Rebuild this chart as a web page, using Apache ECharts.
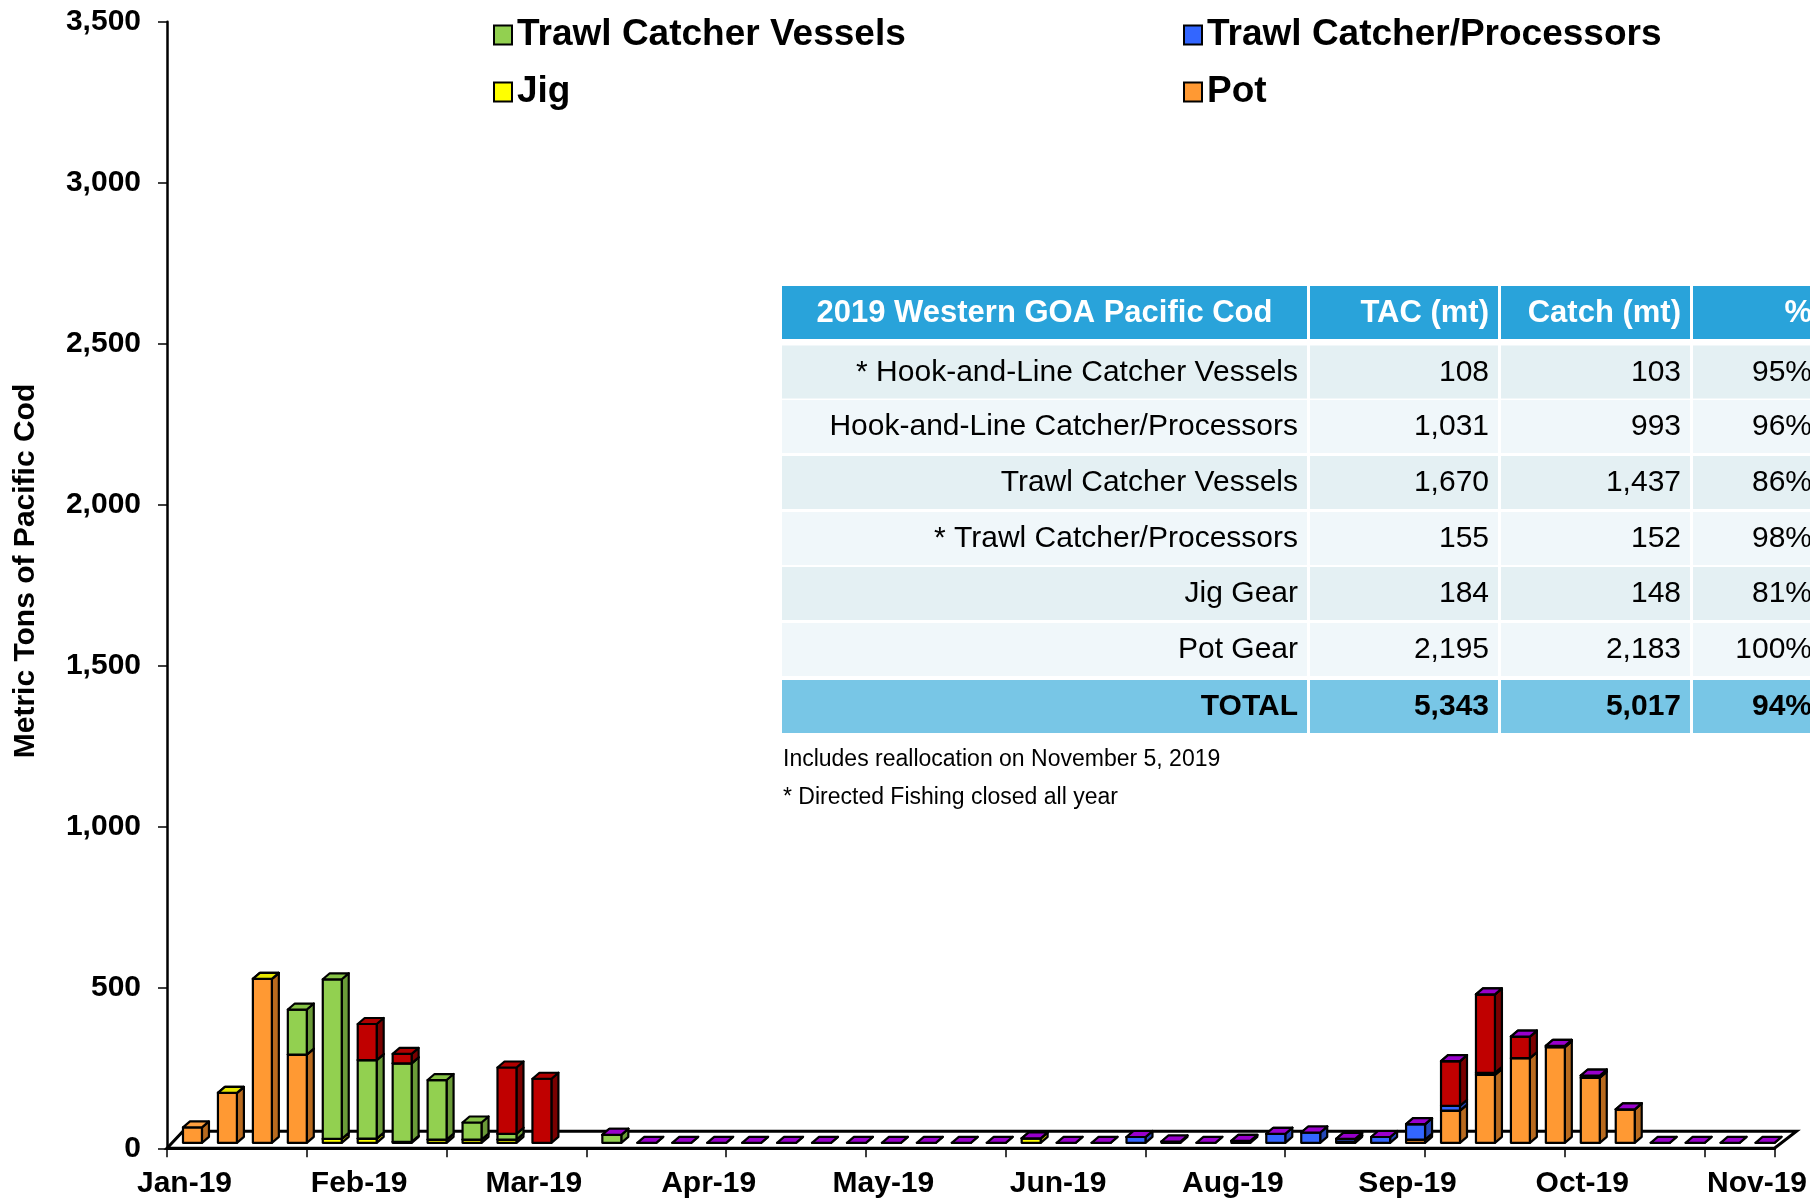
<!DOCTYPE html>
<html><head><meta charset="utf-8">
<script src="https://cdn.jsdelivr.net/npm/echarts@6/dist/echarts.min.js"></script>
<style>html,body{margin:0;padding:0;background:#fff}#c{width:1810px;height:1201px}</style>
</head><body><div id="c"></div>
<script>
// ---- categories (week ending dates) ----
const weeks = ['2019-01-05','2019-01-12','2019-01-19','2019-01-26','2019-02-02','2019-02-09','2019-02-16','2019-02-23',
'2019-03-02','2019-03-09','2019-03-16','2019-03-23','2019-03-30','2019-04-06','2019-04-13','2019-04-20','2019-04-27',
'2019-05-04','2019-05-11','2019-05-18','2019-05-25','2019-06-01','2019-06-08','2019-06-15','2019-06-22','2019-06-29',
'2019-07-06','2019-07-13','2019-07-20','2019-07-27','2019-08-03','2019-08-10','2019-08-17','2019-08-24','2019-08-31',
'2019-09-07','2019-09-14','2019-09-21','2019-09-28','2019-10-05','2019-10-12','2019-10-19','2019-10-26','2019-11-02',
'2019-11-09','2019-11-16'];
const monthNames = ['Jan','Feb','Mar','Apr','May','Jun','Jul','Aug','Sep','Oct','Nov','Dec'];
const yTicks = [0,500,1000,1500,2000,2500,3000,3500];
const N = null;
// ---- series values (metric tons), stacked bottom -> top ----
const pot   = [48,155,509,274,N,N,N,N,N,N, N,N,N,N,N,N,N,N,N,N, N,N,N,N,N,N,N,N,N,N, N,N,N,N,N,10,100,211,263,297, 202,104,N,N,N,N];
const jig   = [N,0,0,N,12,13,3,10,10,10, N,N,N,N,N,N,N,N,N,N, N,N,N,N,14,N,N,N,N,N, N,N,N,4,N,N,N,N,N,N, N,N,N,N,N,N];
const trawlCV = [N,N,N,140,496,244,244,185,53,18, N,N,25,N,N,N,N,N,N,N, N,N,N,N,N,N,N,N,N,N, N,N,N,N,N,N,N,N,N,N, 7,N,N,N,N,N];
const trawlCP = [N,N,N,N,N,N,N,N,N,N, N,N,N,N,N,N,N,N,N,N, N,N,N,N,N,N,N,18,4,N, 6,28,32,8,18,48,15,6,N,N, N,N,N,N,N,N];
const hookCP  = [N,N,N,N,N,112,29,N,N,206, 199,N,N,N,N,N,N,N,N,N, N,N,N,N,N,N,N,N,N,N, N,N,N,N,N,N,139,244,67,4, N,N,N,N,N,N];
const hookCV  = [N,N,N,N,N,N,N,N,N,N, N,N,0,0,0,0,0,0,0,0, 0,0,0,0,0,0,0,0,0,0, 0,0,0,0,0,0,0,0,0,0, 0,0,0,0,0,0];
const seriesNames = ['Pot','Jig','Trawl Catcher Vessels','Trawl Catcher/Processors','Hook-and-Line Catcher/Processors','Hook-and-Line Catcher Vessels'];
const seriesValues = [pot, jig, trawlCV, trawlCP, hookCP, hookCV];
// ---- table ----
const tableHead = ['2019 Western GOA Pacific Cod','TAC (mt)','Catch (mt)','%'];
const rowNames = ['* Hook-and-Line Catcher Vessels','Hook-and-Line Catcher/Processors','Trawl Catcher Vessels','* Trawl Catcher/Processors','Jig Gear','Pot Gear'];
const tacVals = ['108','1,031','1,670','155','184','2,195'];
const catchVals = ['103','993','1,437','152','148','2,183'];
const pctVals = ['95%','96%','86%','98%','81%','100%'];
const totalRow = ['TOTAL','5,343','5,017','94%'];
const notes = ['Includes reallocation on November 5, 2019','* Directed Fishing closed all year'];
const yTitle = 'Metric Tons of Pacific Cod';

// ---- styles ----
const FONT = '"Liberation Sans", Arial, sans-serif';
const palette = [
  {front:'#FF9933', side:'#B86A1E', top:'#FFA040'},
  {front:'#FFFF00', side:'#B5B500', top:'#E6E600'},
  {front:'#92D050', side:'#6A9B38', top:'#86C246'},
  {front:'#3366FF', side:'#2447B8', top:'#3366FF'},
  {front:'#C00000', side:'#7A0000', top:'#B00000'},
  {front:'#9900CC', side:'#6A008E', top:'#9900CC'}
];
const SHIFT_X = 8, SHIFT_Y = 5.5, DX = 7, DY = 6, BAR_FRAC = 19/35;

function makeRender(col){
  return function(params, api){
    const i = api.value(0), b = api.value(1), t = api.value(2);
    const p0 = api.coord([i, b]), p1 = api.coord([i, t]);
    const bw = api.size([1, 0])[0] * BAR_FRAC;
    const x0 = p0[0] - bw/2 + SHIFT_X, x1 = x0 + bw;
    const yb = p0[1] - SHIFT_Y, yt = p1[1] - SHIFT_Y;
    const st = {stroke:'#000', lineWidth:2.2, lineJoin:'round'};
    return {type:'group', children:[
      {type:'polygon', shape:{points:[[x1,yb],[x1,yt],[x1+DX,yt-DY],[x1+DX,yb-DY]]}, style:Object.assign({fill:col.side}, st)},
      {type:'rect', shape:{x:x0, y:yt, width:bw, height:yb-yt}, style:Object.assign({fill:col.front}, st)},
      {type:'polygon', shape:{points:[[x0,yt],[x1,yt],[x1+DX,yt-DY],[x0+DX,yt-DY]]}, style:Object.assign({fill:col.top}, st)}
    ]};
  };
}

const cum = weeks.map(() => 0);
const barSeries = seriesValues.map((vals, s) => {
  const data = [];
  vals.forEach((v, i) => {
    if (v === null) return;
    data.push([i, cum[i], cum[i] + v]);
    cum[i] += v;
  });
  return {
    type:'custom', name:seriesNames[s], renderItem:makeRender(palette[s]),
    itemStyle:{color:palette[s].front}, encode:{x:0, y:[1,2]}, data, z:3, silent:true
  };
});

const floorSeries = {
  type:'custom', name:'floor', silent:true, z:2, data:[[0,0]],
  renderItem:function(params, api){
    const cs = params.coordSys;
    const yb = cs.y + cs.height, xl = cs.x, xr = cs.x + cs.width;
    return {type:'polygon', shape:{points:[[xl,yb],[xr,yb],[xr+22,yb-17],[xl+16,yb-17]]},
      style:{fill:'#fff', stroke:'#000', lineWidth:3, lineJoin:'miter'}};
  }
};

// ---- table graphics ----
const colEdges = [[782,1307],[1310,1498],[1501,1690],[1693,1850]];
const gfx = [];
function cell(x0,x1,y0,h,fill){ gfx.push({type:'rect', shape:{x:x0,y:y0,width:x1-x0,height:h}, style:{fill}, z:10}); }
function txt(s,x,y,align,size,weight,color,rot){
  gfx.push({type:'text', x, y, z:11, rotation:rot||0, style:{text:s, x:0, y:0, align, verticalAlign:'middle', fontSize:size, fontWeight:weight, fill:color, fontFamily:FONT}});
}
const colRight = [1298, 1489, 1681, 1812];
// header
colEdges.forEach((c,k) => cell(c[0], c[1], 286, 53, '#29A3DA'));
txt(tableHead[0], (colEdges[0][0]+colEdges[0][1])/2, 313, 'center', 31, 'bold', '#fff');
for (let k=1;k<4;k++) txt(tableHead[k], colRight[k], 313, 'right', 31, 'bold', '#fff');
// data rows
const rowTops = [345.5,400,456,512,567,623];
rowNames.forEach((nm, r) => {
  const y0 = rowTops[r], fill = r % 2 === 0 ? '#E4F0F3' : '#F0F7FA';
  colEdges.forEach(c => cell(c[0], c[1], y0, 53, fill));
  const yc = y0 + 27;
  txt(nm, colRight[0], yc, 'right', 30, 'normal', '#000');
  txt(tacVals[r], colRight[1], yc, 'right', 30, 'normal', '#000');
  txt(catchVals[r], colRight[2], yc, 'right', 30, 'normal', '#000');
  txt(pctVals[r], colRight[3], yc, 'right', 30, 'normal', '#000');
});
// total
colEdges.forEach(c => cell(c[0], c[1], 680, 53, '#78C6E6'));
totalRow.forEach((s,k) => txt(s, colRight[k], 707, 'right', 30, 'bold', '#000'));
// notes
txt(notes[0], 783, 760, 'left', 23, 'normal', '#000');
txt(notes[1], 783, 798, 'left', 23, 'normal', '#000');
// y axis title
txt(yTitle, 26, 571, 'center', 30, 'bold', '#000', Math.PI/2);

const legendCommon = {
  orient:'vertical', top:10, itemWidth:18, itemHeight:19, itemGap:17, icon:'rect', selectedMode:false,
  itemStyle:{borderColor:'#000', borderWidth:2},
  textStyle:{fontSize:37, fontWeight:'bold', color:'#000', fontFamily:FONT, lineHeight:40}
};

const chart = echarts.init(document.getElementById('c'), null, {renderer:'canvas'});
chart.setOption({
  animation:false,
  backgroundColor:'#fff',
  grid:{left:167, right:33, top:21.7, bottom:52.7, containLabel:false},
  legend:[
    Object.assign({}, legendCommon, {left:488, data:['Trawl Catcher Vessels','Jig']}),
    Object.assign({}, legendCommon, {left:1178, data:['Trawl Catcher/Processors','Pot']})
  ],
  xAxis:{
    type:'category', data:weeks, boundaryGap:true,
    axisLine:{show:true, lineStyle:{color:'#000', width:3}},
    axisTick:{show:true, interval:3, length:9, lineStyle:{color:'#000', width:1.5}},
    axisLabel:{interval:4, margin:20, fontSize:30, fontWeight:'bold', color:'#000', fontFamily:FONT,
      formatter:v => monthNames[+v.slice(5,7)-1] + '-' + v.slice(2,4)}
  },
  yAxis:{
    type:'value', min:yTicks[0], max:yTicks[yTicks.length-1], interval:500,
    axisLine:{show:true, lineStyle:{color:'#000', width:2.5}},
    axisTick:{show:true, length:9, lineStyle:{color:'#000', width:1.5}},
    splitLine:{show:false},
    axisLabel:{margin:26, fontSize:30, fontWeight:'bold', color:'#000', fontFamily:FONT,
      formatter:v => v.toLocaleString('en-US')}
  },
  series:[floorSeries].concat(barSeries),
  graphic:gfx
});
</script></body></html>
